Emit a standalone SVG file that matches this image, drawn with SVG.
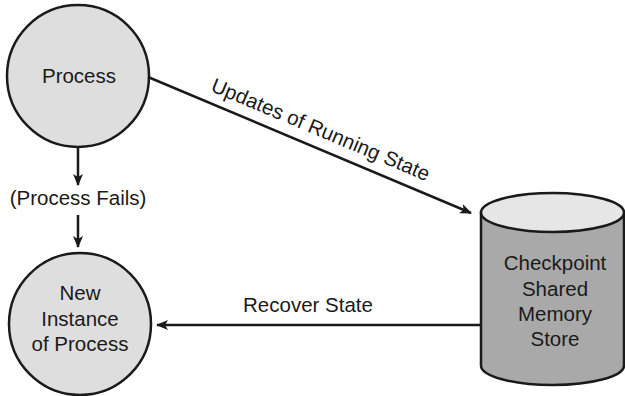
<svg xmlns="http://www.w3.org/2000/svg" width="625" height="396" viewBox="0 0 625 396">
<style>
text{font-family:"Liberation Sans",Arial,sans-serif;font-size:20.5px;fill:#1a1a1a;text-anchor:middle}
.node{fill:#dedede;stroke:#1a1a1a;stroke-width:2.5}
.edge{stroke:#1a1a1a;stroke-width:2.5;fill:none}
</style>
<defs>
<marker id="ah" viewBox="0 0 12 10" refX="11" refY="5" markerWidth="12" markerHeight="10" markerUnits="userSpaceOnUse" orient="auto">
<path d="M0,0 L12,5 L0,10 L3,5 Z" fill="#1a1a1a"/>
</marker>
</defs>
<rect width="625" height="396" fill="#fff"/>
<g id="process">
<circle class="node" cx="78" cy="76" r="71"/>
<text x="79" y="83">Process</text>
</g>
<g id="new-instance">
<circle class="node" cx="80" cy="324" r="71"/>
<text x="80" y="300">New</text>
<text x="80" y="326">Instance</text>
<text x="80" y="351">of Process</text>
</g>
<g id="store">
<path d="M481,212.5 L481,365.5 A71.5,19.5 0 0 0 624,365.5 L624,212.5 Z" fill="#a9a9a9" stroke="#1a1a1a" stroke-width="2.5"/>
<ellipse cx="552.5" cy="212.5" rx="71.5" ry="19.5" fill="#e6e6e6" stroke="#1a1a1a" stroke-width="2.5"/>
<text x="555" y="270">Checkpoint</text>
<text x="555" y="296">Shared</text>
<text x="555" y="321">Memory</text>
<text x="555" y="346">Store</text>
</g>
<g id="connectors">
<line class="edge" x1="148" y1="77" x2="471" y2="213" marker-end="url(#ah)"/>
<text x="318" y="136" transform="rotate(22.7 318 136)">Updates of Running State</text>
<line class="edge" x1="78" y1="147" x2="78" y2="185" marker-end="url(#ah)"/>
<text x="78" y="205">(Process Fails)</text>
<line class="edge" x1="78" y1="215" x2="78" y2="247" marker-end="url(#ah)"/>
<line class="edge" x1="481" y1="325" x2="157" y2="325" marker-end="url(#ah)"/>
<text x="308" y="312">Recover State</text>
</g>
</svg>
